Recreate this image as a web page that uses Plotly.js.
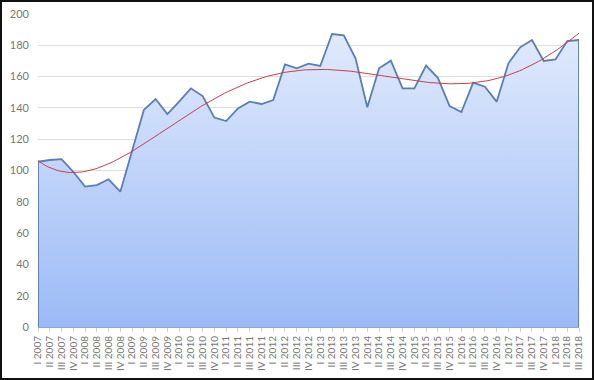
<!DOCTYPE html>
<html>
<head>
<meta charset="utf-8">
<script src="https://cdn.plot.ly/plotly-3.0.1.min.js"></script>
<style>
  html, body { margin: 0; padding: 0; background: #fff; }
  #wrap { position: relative; width: 594px; height: 380px; }
  #chart { position: absolute; left: 0; top: 0; width: 594px; height: 380px; }
  #frame { position: absolute; left: 0; top: 0; width: 594px; height: 380px; box-sizing: border-box; border: 2px solid #111; pointer-events: none; }
</style>
</head>
<body>
<div id="wrap"><div id="chart"></div><div id="frame"></div></div>
<script>
const quarters = ["I", "II", "III", "IV"];
const years = [2007, 2008, 2009, 2010, 2011, 2012, 2013, 2014, 2015, 2016, 2017, 2018];
const categories = [];
years.forEach(y => quarters.forEach(q => { if (!(y === 2018 && q === "IV")) categories.push(q + " " + y); }));

const values = [
  105.6, 106.7, 107.3, 99.2, 89.7, 90.7, 94.4, 86.5,
  112.0, 138.7, 145.7, 136.1, 144.0, 152.5, 147.6, 133.8,
  131.6, 139.7, 144.0, 142.5, 145.0, 167.8, 165.3, 168.3,
  166.8, 187.2, 186.4, 171.7, 140.4, 165.3, 170.2, 152.5,
  152.5, 167.0, 159.2, 141.2, 137.4, 156.1, 153.5, 144.0,
  168.5, 178.7, 183.4, 170.0, 171.0, 182.7, 183.4
];
const yTicks = [0, 20, 40, 60, 80, 100, 120, 140, 160, 180, 200];
const trendDegree = 6;

// polynomial least-squares trendline, computed from the data
function polyFit(ys, deg) {
  const n = ys.length;
  const xs = ys.map((_, i) => (2 * i / (n - 1)) - 1);
  const m = deg + 1;
  const A = Array.from({length: m}, () => new Array(m + 1).fill(0));
  for (let k = 0; k < n; k++) {
    const p = [];
    for (let j = 0; j < m; j++) p.push(Math.pow(xs[k], j));
    for (let r = 0; r < m; r++) {
      for (let c = 0; c < m; c++) A[r][c] += p[r] * p[c];
      A[r][m] += p[r] * ys[k];
    }
  }
  for (let c = 0; c < m; c++) {
    let piv = c;
    for (let r = c + 1; r < m; r++) if (Math.abs(A[r][c]) > Math.abs(A[piv][c])) piv = r;
    [A[c], A[piv]] = [A[piv], A[c]];
    for (let r = 0; r < m; r++) {
      if (r === c) continue;
      const f = A[r][c] / A[c][c];
      for (let cc = c; cc <= m; cc++) A[r][cc] -= f * A[c][cc];
    }
  }
  const coef = A.map((row, i) => row[m] / row[i]);
  return t => coef.reduce((s, a, j) => s + a * Math.pow(t, j), 0);
}
const f = polyFit(values, trendDegree);
const nPts = values.length;
const trendX = [], trendY = [];
const steps = 200;
for (let s = 0; s <= steps; s++) {
  const idx = s * (nPts - 1) / steps;
  trendX.push(idx);
  trendY.push(f(2 * idx / (nPts - 1) - 1));
}

const idxs = values.map((_, i) => i);
const areaX = [0].concat(idxs, [nPts - 1]);
const areaY = [0].concat(values, [0]);

const traces = [
  {
    x: areaX, y: areaY, type: "scatter", mode: "lines",
    fill: "tozeroy",
    fillgradient: { type: "vertical", start: 0, stop: Math.max(...values),
      colorscale: [[0, "#9bbaf6"], [1, "#e0eafc"]] },
    line: { color: "#5a7db4", width: 1.8 },
    hoverinfo: "skip"
  },
  {
    x: trendX, y: trendY, type: "scatter", mode: "lines",
    line: { color: "#cc3f4a", width: 1 },
    hoverinfo: "skip"
  }
];

const layout = {
  width: 594, height: 380,
  margin: { l: 38, r: 15, t: 14, b: 53 },
  paper_bgcolor: "#ffffff", plot_bgcolor: "#ffffff",
  showlegend: false,
  font: { family: "Lato, 'Open Sans', sans-serif", color: "#767676" },
  xaxis: {
    range: [0, nPts - 1],
    tickmode: "array", tickvals: idxs, ticktext: categories,
    tickangle: -90,
    tickfont: { size: 10, color: "#767676" },
    ticks: "outside", ticklen: 4, tickcolor: "#d0d0d0",
    showgrid: false, zeroline: false,
    showline: true, linecolor: "#8aa6d6", linewidth: 1
  },
  yaxis: {
    range: [0, 200],
    tickmode: "array", tickvals: yTicks,
    tickfont: { size: 11, color: "#767676" },
    ticklabelstandoff: 8,
    showgrid: true, gridcolor: "#dedede", gridwidth: 1,
    zeroline: false, showline: false, ticks: ""
  }
};

Plotly.newPlot("chart", traces, layout, { displayModeBar: false, staticPlot: true });
</script>
</body>
</html>
